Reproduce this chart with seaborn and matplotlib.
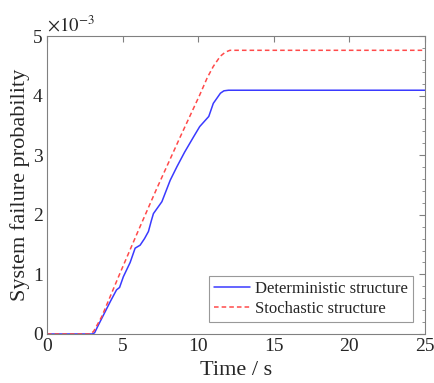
import numpy as np
import pandas as pd
import matplotlib
matplotlib.use("Agg")
import matplotlib.pyplot as plt
import seaborn as sns

# values (probability in units of 1e-3)
t_det = [0, 3.0, 3.15, 3.4, 3.8, 4.2, 4.6, 4.8, 5.05, 5.5, 5.83, 6.16, 6.45, 6.71, 6.9,
         7.04, 7.6, 8.15, 8.6, 9.1, 9.7, 10.1, 10.7, 11.0, 11.25, 11.47, 11.7, 12.0, 25]
p_det = [0, 0, 0.02, 0.15, 0.35, 0.55, 0.74, 0.78, 0.96, 1.2, 1.44, 1.49, 1.6, 1.72, 1.9,
         2.02, 2.22, 2.58, 2.81, 3.05, 3.31, 3.48, 3.65, 3.87, 3.96, 4.04, 4.08, 4.09, 4.09]

t_sto = [0, 2.9, 3.1, 3.62, 4.83, 6.05, 7.26, 8.8, 10.1, 10.6, 11.0, 11.46, 11.8, 12.1, 25]
p_sto = [0, 0, 0.05, 0.29, 1.02, 1.74, 2.44, 3.3, 4.01, 4.3, 4.49, 4.66, 4.73, 4.76, 4.76]

labels = ["Deterministic structure", "Stochastic structure"]

df = pd.concat([
    pd.DataFrame({"t": t_det, "p": p_det, "case": labels[0]}),
    pd.DataFrame({"t": t_sto, "p": p_sto, "case": labels[1]}),
])

sns.set_style("white")
plt.rcParams["font.family"] = ["Liberation Serif", "DejaVu Serif"]
plt.rcParams["mathtext.fontset"] = "stix"

fig = plt.figure(figsize=(4.35, 3.83), dpi=100)
ax = fig.add_axes([0.108, 0.128, 0.869, 0.778])

sns.lineplot(data=df, x="t", y="p", hue="case", style="case",
             palette=["#3a3aff", "#ff4a4a"], dashes=[(None, None), (3, 2)],
             linewidth=1.1, sort=False, estimator=None, ax=ax)

ax.set_xlim(0, 25)
ax.set_ylim(0, 5)
ax.set_xticks([0, 5, 10, 15, 20, 25])
ax.set_yticks([0, 1, 2, 3, 4, 5])
ax.set_yticks(np.arange(0, 5.01, 0.2), minor=True)
ax.tick_params(which="both", direction="in", top=True, right=True,
               color="#808080", labelsize=14, labelcolor="#262626")
ax.tick_params(which="major", length=4, pad=3)
ax.tick_params(which="minor", length=2.5)
for s in ax.spines.values():
    s.set_color("#808080")
    s.set_linewidth(0.8)

ax.set_xlabel("Time / s", fontsize=16, labelpad=4, color="#262626")
ax.set_ylabel("System failure probability", fontsize=16, labelpad=2, color="#262626")
ax.text(0.0, 1.0, r"$\times 10^{-3}$", transform=ax.transAxes, fontsize=13.5,
        ha="left", va="bottom", color="#262626")

leg = ax.legend(loc="lower right", fontsize=12, frameon=True, fancybox=False,
                handlelength=2.2, handletextpad=0.3, borderpad=0.3,
                labelspacing=0.25, borderaxespad=0.7)
leg.get_frame().set_edgecolor("#808080")
leg.get_frame().set_linewidth(0.8)

fig.savefig("out.png", dpi=100)
